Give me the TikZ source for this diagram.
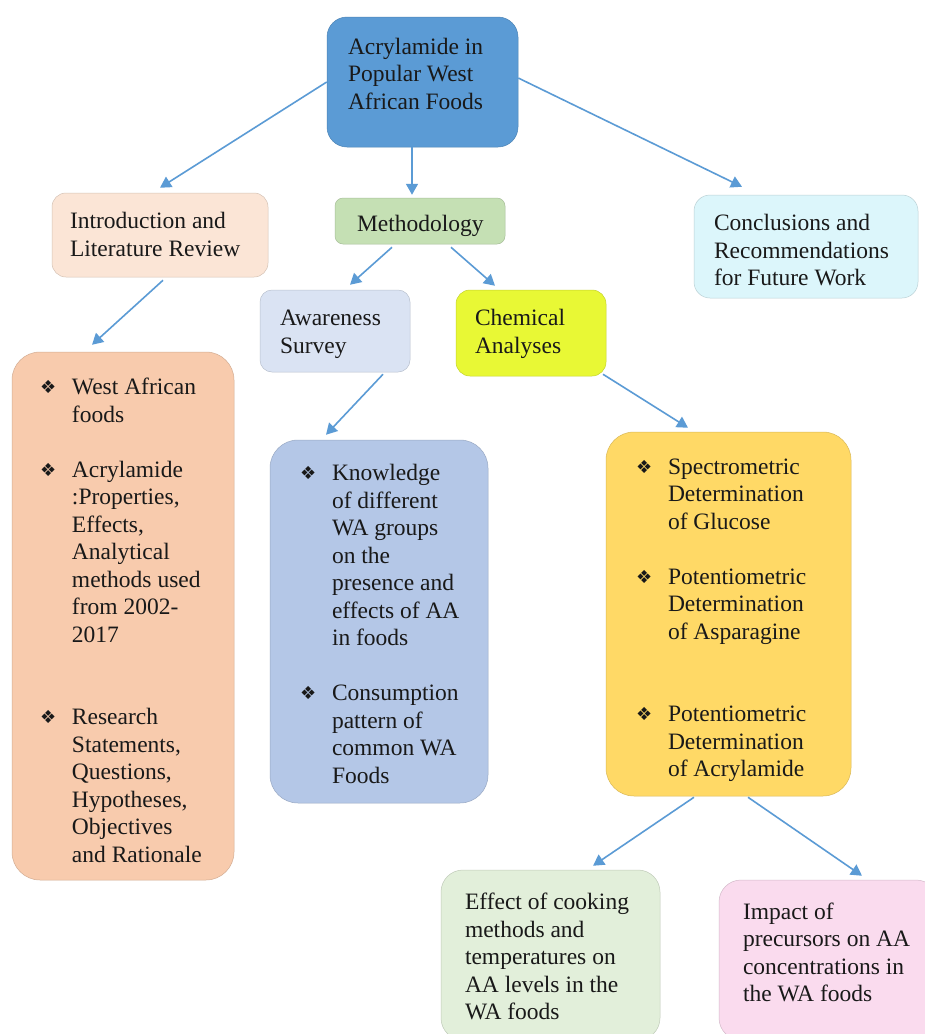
\documentclass[tikz,border=0pt]{standalone}
\usepackage{fontspec}
\setmainfont{Liberation Serif}
\newfontfamily\dejavu{DejaVu Sans}
\usetikzlibrary{arrows.meta}
\definecolor{cTop}{HTML}{5B9BD5}
\definecolor{cIntro}{HTML}{FBE5D6}
\definecolor{cMeth}{HTML}{C5E0B4}
\definecolor{cConc}{HTML}{DCF6FB}
\definecolor{cAware}{HTML}{DAE3F3}
\definecolor{cChem}{HTML}{E8F835}
\definecolor{cLeft}{HTML}{F8CBAD}
\definecolor{cMid}{HTML}{B4C7E7}
\definecolor{cRight}{HTML}{FFD966}
\definecolor{cEff}{HTML}{E2EFDA}
\definecolor{cImp}{HTML}{FADBEE}
\definecolor{cArrow}{HTML}{5B9BD5}
% #1 width, #2 vertical shift (positive = up), #3 lines
\newcommand{\tx}[3]{\raisebox{#2}[\height][\depth]{\makebox[#1][l]{\begin{tabular}{@{}l@{}}#3\end{tabular}}}}
\newcommand{\bb}{\makebox[32pt][l]{\raisebox{1pt}{\dejavu\fontsize{18}{18}\selectfont ❖}}}
\newcommand{\ii}{\hspace*{32pt}}
\tikzset{
  box/.style={rectangle, rounded corners=16pt, inner sep=0pt, draw=#1!85!black, line width=0.5pt, fill=#1,
    font=\fontsize{23.5}{27.5}\selectfont, text=black!90},
  arr/.style={draw=cArrow, line width=1.6pt, -{Triangle[length=11pt,width=12pt]}},
}
\begin{document}
\begin{tikzpicture}[x=1pt,y=-1pt]
\path[use as bounding box] (0,0) rectangle (925,1034);
\clip (0,0) rectangle (925,1034);
\fill[white] (0,0) rectangle (925,1034);

\node[box=cTop, rounded corners=20pt, minimum width=191pt, minimum height=130pt] (top) at (422.5,82)
  {\tx{149pt}{6pt}{Acrylamide in\\Popular West\\African Foods}};
\node[box=cIntro, rounded corners=14pt, minimum width=216pt, minimum height=84pt] (intro) at (160,235)
  {\tx{180pt}{-2pt}{Introduction and\\Literature Review}};
\node[box=cMeth, rounded corners=8pt, minimum width=170pt, minimum height=46pt] (meth) at (420,221)
  {\tx{126pt}{-5pt}{Methodology}};
\node[box=cConc, rounded corners=16pt, minimum width=224pt, minimum height=103pt] (concl) at (806,246.5)
  {\tx{184pt}{-6pt}{Conclusions and\\Recommendations\\for Future Work}};
\node[box=cAware, rounded corners=12pt, minimum width=150pt, minimum height=82pt] (aware) at (335,331)
  {\tx{110pt}{-3pt}{Awareness\\Survey}};
\node[box=cChem, rounded corners=14pt, minimum width=150pt, minimum height=86pt] (chem) at (531,333)
  {\tx{112pt}{-1pt}{Chemical\\Analyses}};

\node[box=cLeft, rounded corners=28pt, minimum width=222pt, minimum height=528pt] (lbig) at (123,616)
  {\tx{166pt}{-7pt}{\bb West African\\ \ii foods\\ \\ \bb Acrylamide\\ \ii :Properties,\\ \ii Effects,\\ \ii Analytical\\ \ii methods used\\ \ii from 2002-\\ \ii 2017\\ \\ \\ \bb Research\\ \ii Statements,\\ \ii Questions,\\ \ii Hypotheses,\\ \ii Objectives\\ \ii and Rationale}};
\node[box=cMid, rounded corners=28pt, minimum width=218pt, minimum height=363pt] (mbig) at (379,621.5)
  {\tx{158pt}{-5pt}{\bb Knowledge\\ \ii of different\\ \ii WA groups\\ \ii on the\\ \ii presence and\\ \ii effects of AA\\ \ii in foods\\ \\ \bb Consumption\\ \ii pattern of\\ \ii common WA\\ \ii Foods}};
\node[box=cRight, rounded corners=28pt, minimum width=245pt, minimum height=364pt] (rbig) at (728.5,614)
  {\tx{185pt}{-6pt}{\bb Spectrometric\\ \ii Determination\\ \ii of Glucose\\ \\ \bb Potentiometric\\ \ii Determination\\ \ii of Asparagine\\ \\ \\ \bb Potentiometric\\ \ii Determination\\ \ii of Acrylamide}};

\node[box=cEff, rounded corners=22pt, minimum width=219pt, minimum height=170pt] (effect) at (550.5,955)
  {\tx{171pt}{-4pt}{Effect of cooking\\methods and\\temperatures on\\AA levels in the\\WA foods}};
\node[box=cImp, rounded corners=22pt, minimum width=219pt, minimum height=160pt] (impact) at (828.5,960)
  {\tx{171pt}{5pt}{Impact of\\precursors on AA\\concentrations in\\the WA foods}};

\draw[arr] (top.west) -- ([yshift=5pt]intro.north);
\draw[arr] ([xshift=-10.5pt]top.south) -- ([xshift=-8pt,yshift=3pt]meth.north);
\draw[arr] ([yshift=4pt]top.east) -- ([xshift=-64pt,yshift=8pt]concl.north);
\draw[arr] ([xshift=3pt,yshift=-3pt]intro.south) -- ([xshift=-31pt,yshift=7pt]lbig.north);
\draw[arr] ([xshift=-28pt,yshift=-3pt]meth.south) -- ([xshift=15pt,yshift=5pt]aware.north);
\draw[arr] ([xshift=31pt,yshift=-3pt]meth.south) -- ([xshift=-36pt,yshift=4pt]chem.north);
\draw[arr] ([xshift=48pt,yshift=-2pt]aware.south) -- ([xshift=-53pt,yshift=5pt]mbig.north);
\draw[arr] ([xshift=72pt,yshift=2pt]chem.south) -- ([xshift=-40.5pt,yshift=4pt]rbig.north);
\draw[arr] ([xshift=-34.5pt,yshift=-1pt]rbig.south) -- ([xshift=42.5pt,yshift=4pt]effect.north);
\draw[arr] ([xshift=19.5pt,yshift=-1pt]rbig.south) -- ([xshift=33.5pt,yshift=4pt]impact.north);
\end{tikzpicture}
\end{document}
